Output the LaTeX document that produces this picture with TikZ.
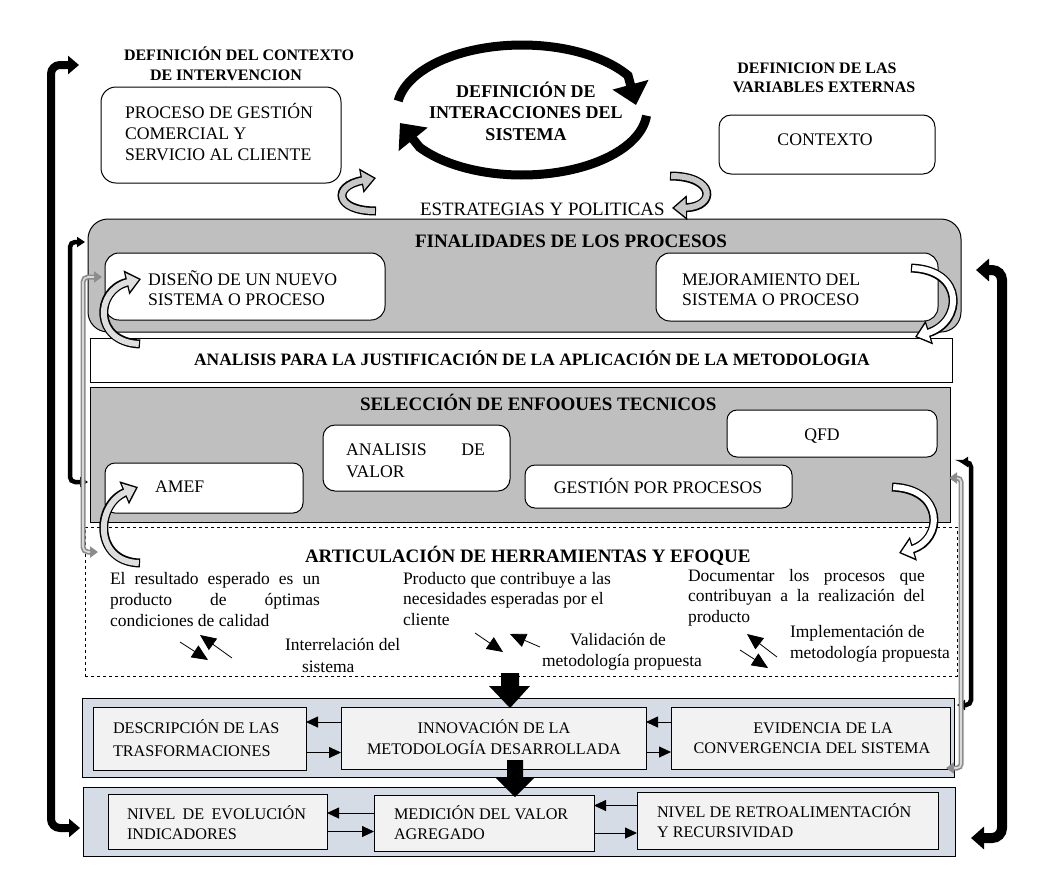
\documentclass[tikz,border=0pt]{standalone}
\usepackage{fontspec}
\setmainfont{Liberation Serif}
\usetikzlibrary{arrows.meta}
\definecolor{boxgray}{HTML}{BFBFBF}
\definecolor{bandblue}{HTML}{D6DCE5}
\definecolor{innerbox}{HTML}{F2F2F2}
\definecolor{brgray}{HTML}{8C8C8C}
\definecolor{brlight}{HTML}{D9D9D9}
\definecolor{arrgray}{HTML}{C8C8C8}
\newcommand\fbody{\fontsize{17.7}{19.5}\selectfont}
\newcommand\fart{\fontsize{17.5}{20.5}\selectfont}
\newcommand\fhead{\fontsize{16}{20}\selectfont\bfseries}
\newcommand\fsec{\fontsize{19}{22}\selectfont\bfseries}
\newcommand\sx[2]{\makebox[#1pt][s]{#2}}
\begin{document}
\begin{tikzpicture}[x=1pt,y=-1pt,
  every node/.style={inner sep=0pt, outer sep=0pt},
  rbox/.style={draw, line width=1pt, fill=white, rounded corners=#1, anchor=north west},
  rbox/.default=12pt,
  sbox/.style={draw, line width=1pt, anchor=north west},
  txt/.style={anchor=base west, align=left},
  ctxt/.style={anchor=base, align=center},
  tarrow/.style={line width=0.9pt, -{Triangle[length=12pt,width=11pt]}},
  parrow/.style={line width=0.8pt, -{Triangle[length=16pt,width=14pt]}},
  cout/.style={line width=9pt, black, -{Triangle[length=15pt,width=24pt]}},
  cin/.style={line width=6pt, #1, shorten >=2.2pt, shorten <=1.2pt, -{Triangle[length=11.5pt,width=18pt]}},
  ring/.style={line width=9pt, -{Triangle[length=21pt,width=36pt]}},
]
\path[use as bounding box, fill=white] (0,0) rectangle (1048,895);

% ---------- boxes ----------
\node[rbox=15pt, minimum width=240pt, minimum height=96pt] (proc) at (101,87) {};
\node[rbox=12pt, minimum width=216pt, minimum height=59pt] (contexto) at (719,115) {};
\node[rbox=20pt, fill=boxgray, minimum width=873pt, minimum height=113pt] (finalid) at (88,219) {};
\node[rbox=14pt, minimum width=280pt, minimum height=67pt] (diseno) at (105,253) {};
\node[rbox=14pt, minimum width=282pt, minimum height=68pt] (mejora) at (656,253) {};
\node[sbox, fill=white, minimum width=862pt, minimum height=44pt] (analisis) at (90,338) {};
\node[sbox, fill=boxgray, minimum width=860pt, minimum height=135pt] (seleccion) at (90,387) {};
\node[rbox=10pt, minimum width=198pt, minimum height=50pt] (amef) at (105,463) {};
\node[rbox=12pt, minimum width=187pt, minimum height=66pt] (valor) at (323,425) {};
\node[rbox=10pt, minimum width=267pt, minimum height=43pt] (gestion) at (525,465) {};
\node[rbox=10pt, minimum width=210pt, minimum height=47pt] (qfd) at (727,410) {};
\node[sbox, dashed, line width=0.7pt, minimum width=872pt, minimum height=149pt] (artic) at (85,527) {};
\node[sbox, fill=bandblue, minimum width=872pt, minimum height=79pt] (band1) at (82,698) {};
\node[sbox, fill=innerbox, minimum width=213pt, minimum height=63pt] (descr) at (93,707) {};
\node[sbox, fill=innerbox, minimum width=305pt, minimum height=62pt] (innov) at (341,707) {};
\node[sbox, fill=innerbox, minimum width=279pt, minimum height=62pt] (evid) at (671,707) {};
\node[sbox, fill=bandblue, minimum width=872pt, minimum height=69pt] (band2) at (83,787) {};
\node[sbox, fill=innerbox, minimum width=219pt, minimum height=55pt] (nivel) at (108,794) {};
\node[sbox, fill=innerbox, minimum width=220pt, minimum height=56pt] (medic) at (374,795) {};
\node[sbox, fill=innerbox, minimum width=301pt, minimum height=57pt] (retro) at (637,792) {};

% ---------- central ring ----------
\draw[ring] plot[domain=172:32, samples=60] ({522+125*cos(\x)},{110-65*sin(\x)}) -- (636,105);
\draw[ring] plot[domain=-5:-145, samples=60] ({522+125*cos(\x)},{110-65*sin(\x)}) -- (400,123);

% ---------- hollow curved arrows ----------
\draw[cout] (376,211) .. controls (335,211) and (332,186) .. (376,178);
\draw[cin=arrgray] (376,211) .. controls (335,211) and (332,186) .. (376,178);
\draw[cout] (670,176) .. controls (716,176) and (716,207) .. (672,208);
\draw[cin=arrgray] (670,176) .. controls (716,176) and (716,207) .. (672,208);
\draw[cout] (140,344) .. controls (93,342) and (95,290) .. (141,279);
\draw[cin=arrgray!60] (140,344) .. controls (93,342) and (95,290) .. (141,279);
\draw[cout] (911,268) .. controls (965,270) and (963,322) .. (915,337);
\draw[cin=white] (911,268) .. controls (965,270) and (963,322) .. (915,337);
\draw[cout] (140,563) .. controls (94,562) and (95,505) .. (138,487);
\draw[cin=arrgray!60] (140,563) .. controls (94,562) and (95,505) .. (138,487);
\draw[cout] (892,487) .. controls (945,489) and (943,540) .. (899,553);
\draw[cin=white] (892,487) .. controls (945,489) and (943,540) .. (899,553);

% ---------- brackets ----------
\draw[line width=8pt, rounded corners=9pt, {Triangle[length=11pt,width=18pt]}-{Triangle[length=11pt,width=18pt]}] (79,65) -- (51,65) -- (51,828) -- (80,828);
\draw[line width=10pt, rounded corners=10pt, {Triangle[length=13pt,width=22pt]}-{Triangle[length=13pt,width=22pt]}] (976,270) -- (1002,270) -- (1002,838) -- (971,838);
\draw[line width=4.5pt, rounded corners=5pt, {Triangle[length=8pt,width=10pt]}-{Triangle[length=8pt,width=10pt]}] (85,242) -- (70,242) -- (70,482) -- (88,482);
\draw[line width=4.5pt, rounded corners=5pt, {Triangle[length=8pt,width=10pt]}-{Triangle[length=8pt,width=10pt]}] (960,462) -- (971,462) -- (971,705) -- (957,705);
\draw[brgray, line width=5pt, rounded corners=5pt, {Triangle[length=8pt,width=11pt]}-{Triangle[length=8pt,width=11pt]}] (102,277) -- (83,277) -- (83,552) -- (98,552);
\draw[brlight, line width=1.6pt, rounded corners=5pt, shorten <=8pt, shorten >=8pt] (102,277) -- (83,277) -- (83,552) -- (98,552);
\draw[brgray, line width=5pt, rounded corners=4pt, {Triangle[length=8pt,width=11pt]}-{Triangle[length=8pt,width=11pt]}] (949,478) -- (961,478) -- (961,768) -- (946,768);
\draw[brlight, line width=1.6pt, rounded corners=4pt, shorten <=8pt, shorten >=8pt] (949,478) -- (961,478) -- (961,768) -- (946,768);

% ---------- block arrows ----------
\fill (501,673) -- (519,673) -- (519,686) -- (530,686) -- (510,708) -- (489,686) -- (501,686) -- cycle;
\fill (507,760) -- (523,760) -- (523,778) -- (534,778) -- (515,797) -- (496,778) -- (507,778) -- cycle;

% ---------- band arrows ----------
\draw[tarrow] ([yshift=16pt]innov.west) -- ([yshift=16pt]innov.west -| descr.east);
\draw[tarrow] ([yshift=-14pt]descr.east) -- ([yshift=-14pt]descr.east -| innov.west);
\draw[tarrow] ([yshift=16pt]evid.west) -- ([yshift=16pt]evid.west -| innov.east);
\draw[tarrow] ([yshift=-14pt]innov.east) -- ([yshift=-14pt]innov.east -| evid.west);
\draw[tarrow] ([yshift=10pt]medic.west) -- ([yshift=10pt]medic.west -| nivel.east);
\draw[tarrow] ([yshift=-10pt]nivel.east) -- ([yshift=-10pt]nivel.east -| medic.west);
\draw[tarrow] ([yshift=15pt]retro.west) -- ([yshift=15pt]retro.west -| medic.east);
\draw[tarrow] ([yshift=-10pt]medic.east) -- ([yshift=-10pt]medic.east -| retro.west);

% ---------- articulation arrow pairs ----------
\draw[parrow] (180,642) -- (208,660);
\draw[parrow] (232,658) -- (200,635);
\draw[parrow] (475,633) -- (503,652);
\draw[parrow] (540,647) -- (510,634);
\draw[parrow] (777,657) -- (747,634);
\draw[parrow] (740,650) -- (768,668);

% ---------- texts (multi-line nodes anchored at their last baseline) ----------
\node[txt, font=\fhead] (tctx1) at (124,60) {DEFINICIÓN DEL CONTEXTO};
\node[txt, font=\fhead] (tctx2) at (150,80) {DE INTERVENCION};
\node[ctxt, font=\fhead] (tvar1) at (817,73) {DEFINICION DE LAS};
\node[ctxt, font=\fhead] (tvar2) at (824,92) {VARIABLES EXTERNAS};
\node[ctxt, font=\fontsize{18}{21.5}\selectfont\bfseries] (tint) at (526,140) {DEFINICIÓN DE\\INTERACCIONES DEL\\SISTEMA};
\node[txt, font=\fontsize{17.7}{21}\selectfont] (tproc) at (125,160) {PROCESO DE GESTIÓN\\COMERCIAL Y\\SERVICIO AL CLIENTE};
\node[ctxt, font=\fbody] (tcontexto) at (825,145) {CONTEXTO};
\node[txt, font=\fontsize{18.9}{22}\selectfont] (testr) at (420,215) {ESTRATEGIAS Y POLITICAS};
\node[txt, font=\fsec] (tfin) at (415,247) {FINALIDADES DE LOS PROCESOS};
\node[txt, font=\fbody] (tdis) at (148,305) {DISEÑO DE UN NUEVO\\SISTEMA O PROCESO};
\node[txt, font=\fbody] (tmej) at (682,305) {MEJORAMIENTO DEL\\SISTEMA O PROCESO};
\node[ctxt, font=\fontsize{17.4}{20}\selectfont\bfseries] (tana) at (532,365) {ANALISIS PARA LA JUSTIFICACIÓN DE LA APLICACIÓN DE LA METODOLOGIA};
\node[txt, font=\fsec] (tsel) at (360,410) {SELECCIÓN DE ENFOOUES TECNICOS};
\node[txt, font=\fbody] (tamef) at (155,492) {AMEF};
\node[txt, font=\fontsize{17.7}{22}\selectfont] (tval) at (346,477) {\sx{139}{ANALISIS DE}\\VALOR};
\node[ctxt, font=\fbody] (tges) at (658,493) {GESTIÓN POR PROCESOS};
\node[ctxt, font=\fbody] (tqfd) at (822,440) {QFD};
\node[txt, font=\fsec] (tart) at (305,562) {ARTICULACIÓN DE HERRAMIENTAS Y EFOQUE};
\node[txt, font=\fontsize{17.5}{21}\selectfont] (tb1) at (110,626) {\sx{210}{El resultado esperado es un}\\\sx{210}{producto de óptimas}\\condiciones de calidad};
\node[txt, font=\fontsize{17.5}{21.5}\selectfont] (tinter) at (285,672) {Interrelación del\\\hspace*{17pt}sistema};
\node[txt, font=\fart] (tb2) at (403,625) {Producto que contribuye a las\\necesidades esperadas por el\\cliente};
\node[ctxt, font=\fontsize{17.5}{21}\selectfont] (tvalid) at (622,666) {\hspace*{-8pt}Validación de\\metodología propuesta};
\node[txt, font=\fart] (tb3) at (688,622) {\sx{237}{Documentar los procesos que}\\\sx{237}{contribuyan a la realización del}\\producto};
\node[txt, font=\fontsize{17.5}{21}\selectfont] (timpl) at (790,658) {Implementación de\\metodología propuesta};
\node[txt, font=\fontsize{16.2}{23}\selectfont] (tdes) at (113,756) {DESCRIPCIÓN DE LAS\\TRASFORMACIONES};
\node[ctxt, font=\fontsize{16.2}{21}\selectfont] (tinn) at (494,754) {INNOVACIÓN DE LA\\METODOLOGÍA DESARROLLADA};
\node[ctxt, font=\fontsize{16.2}{20}\selectfont] (tevi) at (812,753) {\hspace*{22pt}EVIDENCIA DE LA\\CONVERGENCIA DEL SISTEMA};
\node[txt, font=\fontsize{16.2}{20}\selectfont] (tniv) at (127,839) {\sx{179}{NIVEL DE EVOLUCIÓN}\\INDICADORES};
\node[txt, font=\fontsize{16.2}{20}\selectfont] (tmed) at (394,839) {MEDICIÓN DEL VALOR\\AGREGADO};
\node[txt, font=\fontsize{16.2}{20}\selectfont] (tret) at (657,837) {NIVEL DE RETROALIMENTACIÓN\\Y RECURSIVIDAD};
\end{tikzpicture}
\end{document}
